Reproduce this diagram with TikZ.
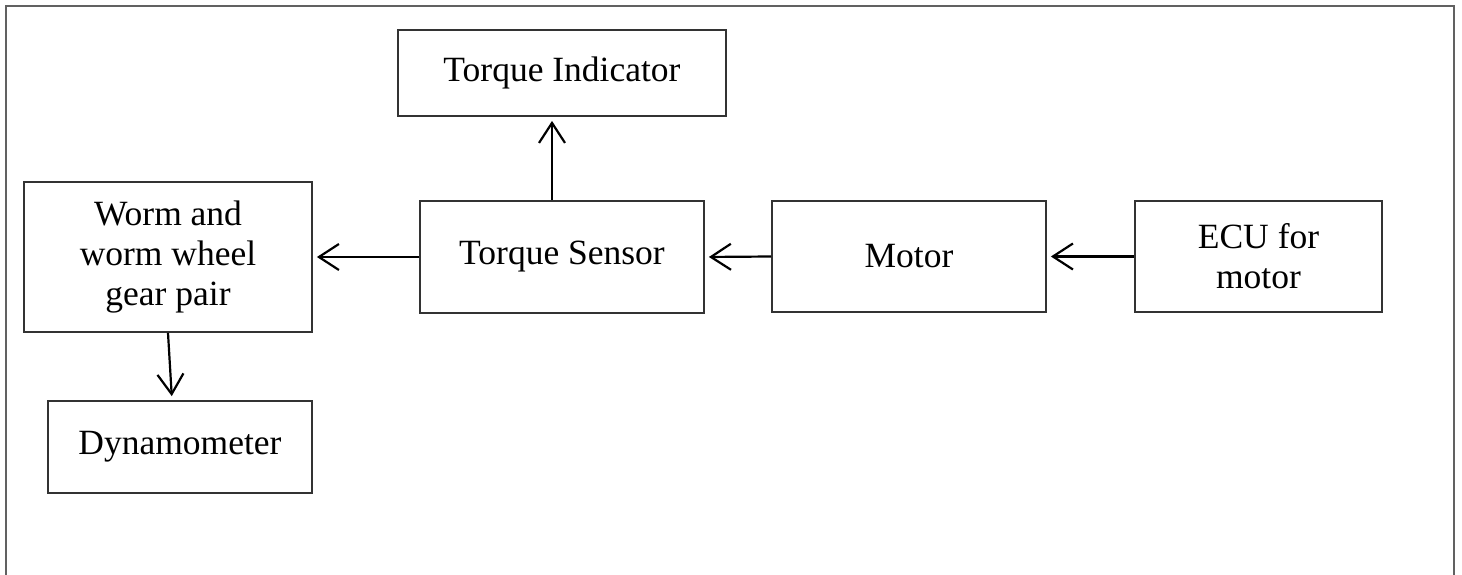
\documentclass[tikz,border=0pt]{standalone}
\usepackage{fontspec}
\setmainfont{Liberation Serif}
\usetikzlibrary{arrows.meta}
\tikzset{
  blk/.style={draw=black!80, line width=1.8pt, inner sep=0pt, align=center,
    font=\fontsize{35.5}{40}\selectfont},
  conn/.style={draw=black, line width=2.2pt,
    -{Straight Barb[length=20pt,width=26pt,line width=2.2pt]}, shorten >=4pt},
  frame/.style={draw=black!62, line width=2.2pt}
}
\begin{document}
\begin{tikzpicture}[x=1pt,y=-1pt]
\useasboundingbox (0,0) rectangle (1462,575);
\fill[white] (0,0) rectangle (1462,575);
\draw[frame] (6,580) -- (6,6) -- (1454,6) -- (1454,580);

\node[blk, minimum width=328pt, minimum height=86pt] (ind) at (562,73) {Torque Indicator};
\node[blk, minimum width=284pt, minimum height=112pt] (ts) at (562,257) {Torque Sensor};
\node[blk, minimum width=288pt, minimum height=150pt] (worm) at (168,257) {Worm and\\worm wheel\\gear pair};
\node[blk, minimum width=264pt, minimum height=92pt] (dyn) at (180,447) {Dynamometer};
\node[blk, minimum width=274pt, minimum height=111pt] (motor) at (909,256.5) {Motor};
\node[blk, minimum width=247pt, minimum height=111pt] (ecu) at (1258.5,256.5) {ECU for\\motor};

\draw[conn] ([xshift=-10pt]ts.north) -- ([xshift=-10pt]ind.south);
\draw[conn] (ts.west) -- (worm.east);
\draw[conn] (motor.west) -- (ts.east);
\draw[conn] (ecu.west) -- (motor.east);
\draw[conn] (worm.south) -- ([xshift=-8pt]dyn.north);
\end{tikzpicture}
\end{document}
